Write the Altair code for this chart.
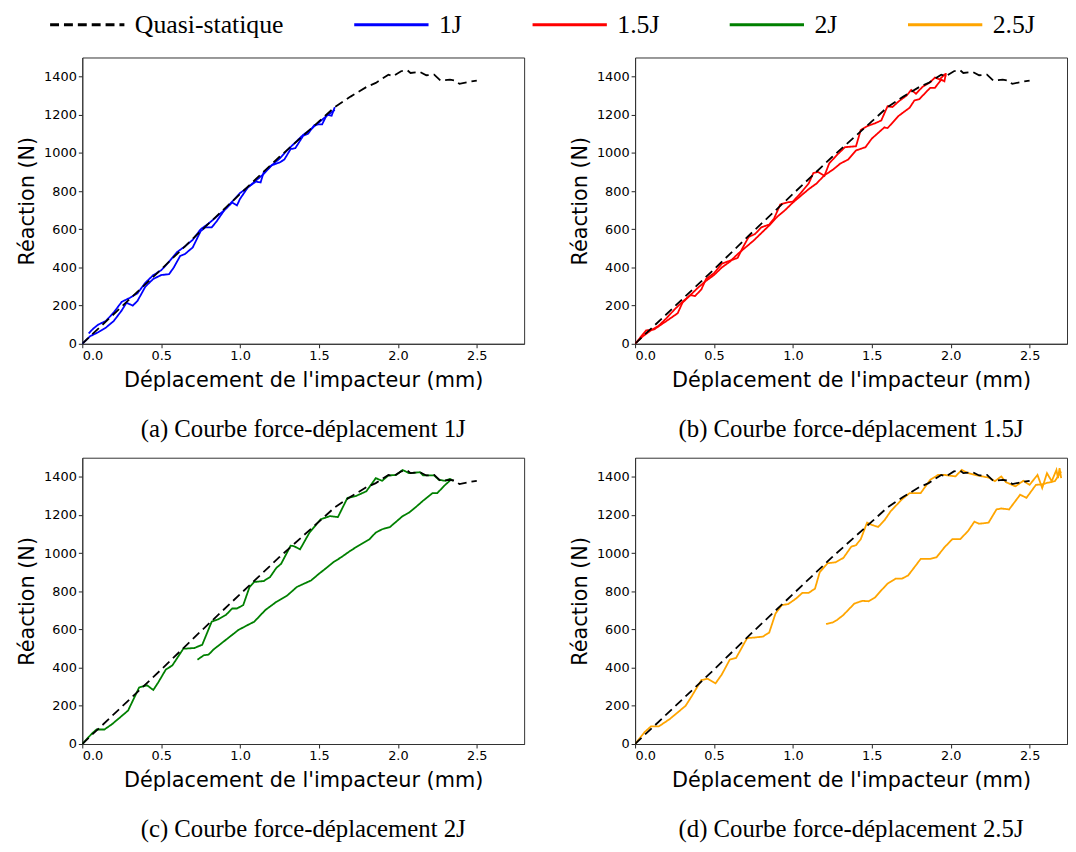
import altair as alt
import pandas as pd

# ---------------- data ----------------
series_names = ["Quasi-statique", "1J", "1.5J", "2J", "2.5J"]
series_colors = ["#000000", "#0000ff", "#ff0000", "#008000", "#ffa500"]
series_dash = [[9, 5], [1, 0], [1, 0], [1, 0], [1, 0]]

captions = [
    "(a) Courbe force-déplacement 1J",
    "(b) Courbe force-déplacement 1.5J",
    "(c) Courbe force-déplacement 2J",
    "(d) Courbe force-déplacement 2.5J",
]
x_title = "Déplacement de l'impacteur (mm)"
y_title = "Réaction (N)"
x_ticks = [0.0, 0.5, 1.0, 1.5, 2.0, 2.5]
y_ticks = [0, 200, 400, 600, 800, 1000, 1200, 1400]

# quasi-static reference curve
qs_x = [0, 0.05, 0.1, 0.25, 0.5, 0.75, 1.0, 1.25, 1.5, 1.6, 1.7, 1.8, 1.86, 1.94, 1.97,
        2.02, 2.06, 2.08, 2.14, 2.18, 2.23, 2.27, 2.33, 2.36, 2.39, 2.45, 2.5]
qs_y = [0, 40, 78, 195, 390, 590, 785, 980, 1165, 1240, 1295, 1345, 1367, 1410, 1402,
        1428, 1433, 1419, 1424, 1407, 1410, 1379, 1384, 1380, 1362, 1372, 1379]

# 1J
j1_load_x = [0, 0.05, 0.1, 0.15, 0.2, 0.25, 0.28, 0.32, 0.35, 0.4, 0.45, 0.5, 0.55, 0.58,
             0.62, 0.65, 0.7, 0.75, 0.78, 0.82, 0.85, 0.9, 0.95, 0.98, 1.0, 1.05, 1.1, 1.13,
             1.15, 1.2, 1.25, 1.28, 1.32, 1.35, 1.4, 1.43, 1.47, 1.5, 1.52, 1.55, 1.58, 1.6]
j1_load_y = [0, 40, 60, 85, 120, 175, 215, 200, 225, 300, 340, 360, 365, 400, 460, 470,
             505, 590, 610, 610, 640, 700, 740, 725, 760, 820, 850, 845, 900, 935, 950, 965,
             1020, 1025, 1090, 1100, 1145, 1150, 1150, 1200, 1195, 1240]
j1_unl_x = [1.6, 1.55, 1.5, 1.45, 1.4, 1.35, 1.3, 1.25, 1.2, 1.15, 1.1, 1.05, 1.0, 0.95,
            0.9, 0.85, 0.8, 0.75, 0.7, 0.65, 0.6, 0.55, 0.5, 0.45, 0.4, 0.35, 0.3, 0.25,
            0.2, 0.15, 0.1, 0.07, 0.04]
j1_unl_y = [1225, 1195, 1160, 1125, 1095, 1055, 1015, 970, 935, 890, 855, 820, 790, 745,
            700, 665, 630, 600, 545, 510, 480, 430, 385, 360, 320, 265, 240, 220, 165, 120,
            100, 80, 54]

# 1.5J
j15_load_x = [0, 0.07, 0.12, 0.2, 0.27, 0.3, 0.35, 0.38, 0.42, 0.45, 0.5, 0.55, 0.6, 0.65,
              0.68, 0.72, 0.76, 0.8, 0.85, 0.88, 0.92, 0.96, 1.0, 1.05, 1.1, 1.13, 1.16, 1.2,
              1.23, 1.28, 1.33, 1.4, 1.43, 1.47, 1.52, 1.56, 1.6, 1.63, 1.67, 1.72, 1.75,
              1.78, 1.82, 1.87, 1.9, 1.93, 1.96, 1.97]
j15_load_y = [0, 70, 75, 120, 160, 215, 255, 250, 285, 340, 370, 420, 435, 450, 500, 560,
              575, 610, 625, 655, 730, 740, 745, 790, 840, 895, 900, 880, 945, 990, 1030,
              1035, 1120, 1140, 1155, 1170, 1245, 1240, 1270, 1300, 1330, 1310, 1345, 1370,
              1395, 1385, 1410, 1400]
j15_unl_x = [1.97, 1.96, 1.94, 1.9, 1.87, 1.8, 1.77, 1.74, 1.67, 1.6, 1.58, 1.5, 1.46, 1.4,
             1.35, 1.3, 1.25, 1.2, 1.15, 1.1, 1.05, 1.0, 0.95, 0.9, 0.85, 0.8, 0.75, 0.7,
             0.65, 0.6, 0.55, 0.5, 0.45, 0.4, 0.35, 0.3, 0.25, 0.2, 0.15, 0.1, 0.05, 0.0]
j15_unl_y = [1418, 1375, 1384, 1341, 1341, 1281, 1275, 1237, 1194, 1130, 1134, 1075, 1030,
             1013, 965, 944, 910, 883, 840, 810, 775, 740, 700, 665, 620, 580, 540, 505,
             470, 430, 400, 360, 330, 295, 255, 220, 180, 135, 95, 70, 40, 0]

# 2J
j2_load_x = [0, 0.06, 0.09, 0.14, 0.19, 0.29, 0.36, 0.41, 0.45, 0.48, 0.53, 0.57, 0.64,
             0.71, 0.76, 0.82, 0.86, 0.91, 0.95, 0.98, 1.02, 1.06, 1.09, 1.15, 1.19, 1.23,
             1.26, 1.32, 1.34, 1.38, 1.44, 1.51, 1.57, 1.62, 1.68, 1.73, 1.80, 1.86, 1.90,
             1.94, 1.99, 2.03, 2.07, 2.14, 2.16, 2.23, 2.26, 2.30, 2.33, 2.35]
j2_load_y = [0, 54, 76, 76, 105, 175, 296, 308, 283, 321, 391, 411, 499, 503, 520, 641,
             653, 676, 710, 710, 728, 823, 849, 854, 875, 923, 944, 1039, 1037, 1020, 1108,
             1177, 1194, 1189, 1289, 1298, 1324, 1393, 1379, 1407, 1410, 1436, 1419, 1424,
             1407, 1407, 1384, 1379, 1389, 1379]
j2_unl_x = [2.33, 2.30, 2.25, 2.22, 2.16, 2.12, 2.07, 2.03, 1.95, 1.90, 1.86, 1.82, 1.75,
            1.70, 1.64, 1.59, 1.54, 1.50, 1.45, 1.36, 1.30, 1.23, 1.16, 1.09, 1.05, 0.99,
            0.91, 0.83, 0.80, 0.77, 0.73]
j2_unl_y = [1380, 1358, 1315, 1315, 1275, 1246, 1212, 1194, 1137, 1125, 1108, 1073, 1039,
            1013, 978, 952, 918, 892, 857, 823, 779, 745, 702, 641, 624, 598, 546, 494,
            468, 465, 442]

# 2.5J
j25_load_x = [0, 0.06, 0.10, 0.15, 0.22, 0.32, 0.36, 0.42, 0.46, 0.51, 0.55, 0.60, 0.64,
              0.71, 0.76, 0.81, 0.85, 0.89, 0.93, 0.97, 1.02, 1.06, 1.10, 1.14, 1.17, 1.22,
              1.27, 1.32, 1.37, 1.40, 1.43, 1.47, 1.50, 1.54, 1.58, 1.62, 1.69, 1.74, 1.81,
              1.87, 1.92, 1.96, 2.03, 2.07, 2.11, 2.17, 2.24, 2.28, 2.32, 2.35, 2.41, 2.46,
              2.50, 2.55, 2.58, 2.61, 2.64, 2.67, 2.68, 2.69, 2.70]
j25_load_y = [0, 62, 92, 92, 131, 200, 252, 335, 342, 318, 365, 442, 451, 555, 558, 563,
              584, 684, 728, 733, 762, 792, 792, 814, 900, 947, 952, 975, 1034, 1042, 1073,
              1160, 1148, 1137, 1172, 1220, 1281, 1315, 1315, 1384, 1410, 1410, 1402, 1436,
              1419, 1407, 1396, 1377, 1402, 1372, 1350, 1379, 1358, 1410, 1341, 1419, 1377,
              1436, 1393, 1445, 1393]
j25_unl_x = [2.70, 2.66, 2.61, 2.58, 2.54, 2.48, 2.44, 2.37, 2.32, 2.29, 2.24, 2.18, 2.15,
             2.11, 2.06, 2.01, 1.96, 1.91, 1.87, 1.81, 1.77, 1.73, 1.69, 1.65, 1.60, 1.56,
             1.52, 1.48, 1.44, 1.39, 1.35, 1.32, 1.28, 1.25, 1.21]
j25_unl_y = [1428, 1377, 1368, 1360, 1358, 1290, 1306, 1229, 1234, 1229, 1160, 1154, 1165,
             1116, 1073, 1073, 1030, 978, 970, 970, 926, 883, 866, 866, 840, 805, 767, 748,
             750, 736, 702, 676, 650, 636, 629]


# ---------------- chart ----------------
def frame(name, run, xs, ys):
    return pd.DataFrame({"serie": name, "run": run, "i": list(range(len(xs))),
                         "x": xs, "y": ys})


# long horizontal legend line drawn with a small symbol box
legend = alt.Legend(
    orient="none", legendX=-8, legendY=-46, direction="horizontal", columns=5,
    symbolType="M-5,0H5", symbolSize=225, symbolStrokeWidth=3,
    labelFont="Liberation Serif", labelFontSize=26, labelColor="black",
    labelOffset=35, columnPadding=64, labelLimit=400, padding=0,
)


def panel(name, runs, caption, xmax, width):
    test = pd.concat([frame(name, "r%d" % k, xs, ys) for k, (xs, ys) in enumerate(runs)])
    qs = frame("Quasi-statique", "qs", qs_x, qs_y)
    x = alt.X("x:Q", scale=alt.Scale(domain=[0, xmax], nice=False),
              axis=alt.Axis(values=x_ticks, format=".1f", title=x_title, titlePadding=7))
    y = alt.Y("y:Q", scale=alt.Scale(domain=[0, 1500], nice=False),
              axis=alt.Axis(values=y_ticks, format="d", title=y_title, titlePadding=6))
    color = alt.Color("serie:N", title=None,
                      scale=alt.Scale(domain=series_names, range=series_colors),
                      legend=legend)
    dash = alt.StrokeDash("serie:N", title=None,
                          scale=alt.Scale(domain=series_names, range=series_dash),
                          legend=legend)
    enc = dict(x=x, y=y, color=color, strokeDash=dash,
               detail="run:N", order="i:Q")
    lines = alt.Chart(test).mark_line(strokeWidth=1.8, clip=True).encode(**enc)
    ref = alt.Chart(qs).mark_line(strokeWidth=1.8, clip=True).encode(**enc)
    return alt.layer(lines, ref).properties(
        width=width, height=289,
        title=alt.TitleParams(caption, orient="bottom", anchor="middle",
                              font="Liberation Serif", fontSize=25,
                              fontWeight="normal", color="black", offset=27),
    )


XMAX_L = 2.8
XMAX_R = 2.737
pa = panel("1J", [(j1_load_x, j1_load_y), (j1_unl_x, j1_unl_y)], captions[0], XMAX_L, 446)
pb = panel("1.5J", [(j15_load_x, j15_load_y), (j15_unl_x, j15_unl_y)], captions[1], XMAX_R, 436)
pc = panel("2J", [(j2_load_x, j2_load_y), (j2_unl_x, j2_unl_y)], captions[2], XMAX_L, 446)
pd_ = panel("2.5J", [(j25_load_x, j25_load_y), (j25_unl_x, j25_unl_y)], captions[3], XMAX_R, 436)

row1 = alt.hconcat(pa, pb, spacing=44).resolve_scale(x="independent", y="independent")
row2 = alt.hconcat(pc, pd_, spacing=44).resolve_scale(x="independent", y="independent")

chart = alt.vconcat(row1, row2, spacing=14).resolve_scale(
    x="independent", y="independent"
).properties(
    padding={"left": 8, "top": 0, "right": 0, "bottom": 0}
).configure(
    font="DejaVu Sans"
).configure_view(
    stroke="#333333", strokeWidth=1
).configure_axis(
    grid=False, labelFont="DejaVu Sans", labelFontSize=13, labelColor="black",
    titleFont="DejaVu Sans", titleFontSize=21, titleFontWeight="normal",
    titleColor="black", tickColor="#222222", domainColor="#333333",
    tickSize=4, labelPadding=2,
)

chart.save("out.html", embed_options={"renderer": "svg", "actions": False})
